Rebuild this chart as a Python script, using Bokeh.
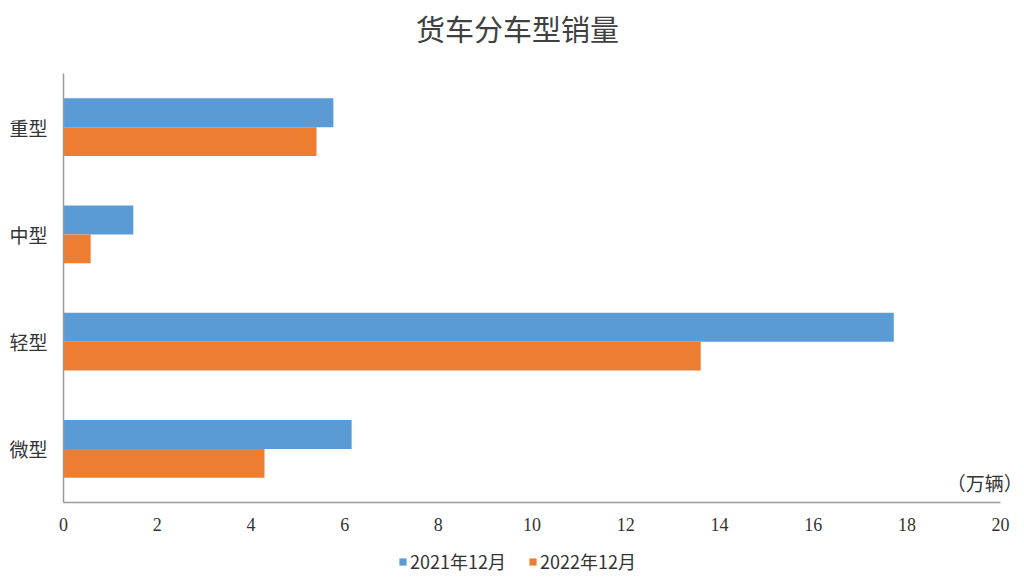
from bokeh.plotting import figure
from bokeh.layouts import column
from bokeh.models import FactorRange, Legend, LegendItem, Label, FixedTicker
from bokeh.transform import dodge
from bokeh.models import ColumnDataSource
from bokeh.embed import file_html
from bokeh.resources import INLINE

title_text = "货车分车型销量"
unit_text = "（万辆）"
categories = ["微型", "轻型", "中型", "重型"]
series_names = ["2021年12月", "2022年12月"]
values_2021 = [6.15, 17.72, 1.49, 5.76]
values_2022 = [4.29, 13.60, 0.58, 5.40]
x_ticks = [0, 2, 4, 6, 8, 10, 12, 14, 16, 18, 20]

BLUE = "#5B9BD5"
ORANGE = "#ED7D31"
CJK = "Noto Sans CJK SC"
TXT = "#333333"
W = 1024
LEFT = 63

# ---- title row (its frame is aligned with the chart frame by the column layout) ----
tf = figure(width=W, height=65, output_backend="svg", toolbar_location=None,
            x_range=(LEFT, W), y_range=(0, 65), min_border=0,
            x_axis_location=None, y_axis_location=None)
tf.grid.visible = False
tf.outline_line_color = None
tf.add_layout(Label(x=517, y=38, text=title_text, text_font=CJK, text_font_size="29px",
                    text_color="#404040", text_align="center", text_baseline="middle"))

# ---- main chart ----
src = ColumnDataSource(dict(cat=categories, v21=values_2021, v22=values_2022))

p = figure(width=W, height=475, output_backend="svg", toolbar_location=None,
           y_range=FactorRange(factors=categories), x_range=(0, 20.51),
           min_border_left=LEFT, min_border_right=0, min_border_top=8, min_border_bottom=38)

r1 = p.hbar(y=dodge("cat", 0.135, range=p.y_range), right="v21", left=0, height=0.27,
            source=src, color=BLUE, line_color=None)
r2 = p.hbar(y=dodge("cat", -0.135, range=p.y_range), right="v22", left=0, height=0.27,
            source=src, color=ORANGE, line_color=None)

p.xgrid.visible = False
p.ygrid.visible = False
p.outline_line_color = None

p.xaxis.ticker = FixedTicker(ticks=x_ticks)
p.xaxis.bounds = (0, 20)
p.xaxis.major_tick_line_color = None
p.xaxis.minor_tick_line_color = None
p.xaxis.axis_line_color = "#9A9A9A"
p.xaxis.axis_line_width = 1.5
p.xaxis.major_label_text_font = "Liberation Serif"
p.xaxis.major_label_text_font_size = "18px"
p.xaxis.major_label_text_color = TXT
p.xaxis.major_label_standoff = 9

p.yaxis.major_tick_line_color = None
p.yaxis.minor_tick_line_color = None
p.yaxis.axis_line_color = "#9A9A9A"
p.yaxis.axis_line_width = 1.5
p.yaxis.major_label_text_font = CJK
p.yaxis.major_label_text_font_size = "19px"
p.yaxis.major_label_text_color = TXT
p.yaxis.major_label_standoff = 10

p.add_layout(Label(x=20.47, y=0.19, text=unit_text, text_font=CJK, text_font_size="19px",
                   text_color=TXT, text_align="right", text_baseline="middle"))

# ---- legend row ----
lg = figure(width=W, height=36, output_backend="svg", toolbar_location=None,
            x_range=(0, 1), y_range=(0, 1), min_border=0,
            x_axis_location=None, y_axis_location=None)
lg.grid.visible = False
lg.outline_line_color = None
k1 = lg.hbar(y=[-10], right=[1], left=[0], height=0.5, color=BLUE, line_color=None)
k2 = lg.hbar(y=[-10], right=[1], left=[0], height=0.5, color=ORANGE, line_color=None)
legend = Legend(items=[LegendItem(label=series_names[0], renderers=[k1]),
                       LegendItem(label=series_names[1], renderers=[k2])],
                orientation="horizontal", location=(335, 2),
                label_text_font=CJK, label_text_font_size="18px", label_text_color=TXT,
                glyph_width=9, glyph_height=9, spacing=22, label_standoff=3,
                border_line_color=None, background_fill_alpha=0, margin=0, padding=4)
lg.add_layout(legend)

open("out.html", "w").write(file_html(column(tf, p, lg, spacing=0), INLINE))
